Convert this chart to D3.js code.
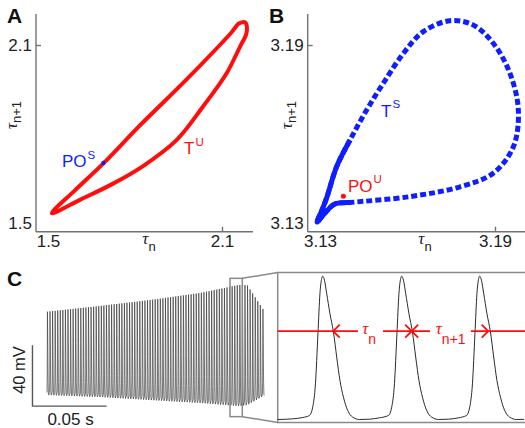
<!DOCTYPE html>
<html>
<head>
<meta charset="utf-8">
<script src="https://d3js.org/d3.v7.min.js"></script>
<style>
  body { margin: 0; background: #fff; }
  svg { display: block; font-family: "Liberation Sans", Arial, sans-serif; }
</style>
</head>
<body>
<svg id="fig" width="525" height="428"></svg>
<script>
// ---------- data ----------
// A: return map of the unstable torus T^U (closed loop, tau_n vs tau_n+1)
const loopAx = [1.513, 1.593, 1.691, 1.817, 1.978, 2.128, 2.160, 2.180, 2.186, 2.183, 2.162, 2.116, 2.034, 1.944, 1.828, 1.721, 1.610];
const loopAy = [1.533, 1.610, 1.701, 1.829, 1.984, 2.137, 2.173, 2.176, 2.160, 2.135, 2.094, 2.005, 1.892, 1.780, 1.692, 1.631, 1.578];
const poS = [1.691, 1.702];
const ticksA = [1.5, 2.1];

// B: return map of the stable torus T^S
const loopBx = [3.1403, 3.1351, 3.1317, 3.1290, 3.1307, 3.1324, 3.1357, 3.1403, 3.1460, 3.1517, 3.1586, 3.1654, 3.1746, 3.1826, 3.1894, 3.1951, 3.1980, 3.1963, 3.1894, 3.1780, 3.1609];
const loopBy = [3.1369, 3.1364, 3.1334, 3.1303, 3.1344, 3.1388, 3.1490, 3.1580, 3.1681, 3.1771, 3.1872, 3.1945, 3.1982, 3.1967, 3.1906, 3.1805, 3.1681, 3.1557, 3.1468, 3.1422, 3.1389];
const denseB = 8;          // first points where the orbit is dense (drawn solid)
const poU = [3.138, 3.139];
const ticksB = [3.13, 3.19];

// C: voltage trace, envelope of the spikes (ms, mV)
const envTime = [0, 35.8, 69.6, 103.4, 129, 135, 147];
const envPeak = [-10.4, -6.6, -2.7, 1.9, 7.1, 7.1, -10.6];
const envTrough = [-65, -66.3, -68.3, -70.2, -72.2, -71.6, -65];
const nSpikes = 85;
const firstSpike = 0.3, lastSpike = 145.6;
// one spike, phase within the ISI (0 = peak) and fraction of amplitude
const shapePhase = [-0.167, -0.091, -0.06, 0, 0.091, 0.177, 0.262, 0.379, 0.464];
const shapeFrac = [0.03, 0.24, 0.60, 1, 0.74, 0.435, 0.155, 0.02, 0];
const zoomWin = { t0: 123.4, t1: 131.7, v0: -79.2, v1: 11.5 };
const scaleBar = { t0: -9.8, t1: 40.2, v0: -72.3, v1: -32.3 };

// C inset: three spikes (ms, mV)
const insetTime = [0, 0.6, 1.0,
  1.27, 1.40, 1.51, 1.61, 1.69, 1.76, 1.80, 1.87, 1.96, 2.09, 2.23, 2.36, 2.49, 2.63, 2.80, 3.00, 3.27, 3.67, 4.07,
  4.43, 4.56, 4.67, 4.77, 4.85, 4.92, 4.96, 5.03, 5.12, 5.25, 5.39, 5.52, 5.65, 5.79, 5.96, 6.16, 6.43, 6.83, 7.23,
  7.55, 7.68, 7.79, 7.89, 7.97, 8.04, 8.08, 8.15, 8.24, 8.37, 8.51, 8.64, 8.77, 8.91, 9.08, 9.28, 9.55, 9.85];
const insetVolt = [-77.0, -76.6, -75.8,
  -74.6, -69.6, -55.6, -25.5, -1.4, 7.6, 9.0, 6.6, -1.4, -13.5, -24.5, -39.5, -53.6, -63.6, -71.6, -75.6, -77.0, -76.8, -76.0,
  -74.6, -69.6, -55.6, -25.5, -1.4, 7.6, 9.0, 6.6, -1.4, -13.5, -24.5, -39.5, -53.6, -63.6, -71.6, -75.6, -77.0, -76.8, -76.0,
  -74.6, -69.6, -55.6, -25.5, -1.4, 7.6, 9.0, 6.6, -1.4, -13.5, -24.5, -39.5, -53.6, -63.6, -71.6, -75.6, -77.0, -76.9];
const threshold = -24;
const redSegs = [[0, 3.21], [4.21, 6.09], [7.73, 9.9]];
const arrowTimes = [2.22, 5.36, 5.36, 8.42];
const arrowDirs = [-1, 1, -1, 1];
const tauTimes = [3.66, 6.92];
const tauSubs = ["n", "n+1"];

// ---------- drawing ----------
const svg = d3.select("#fig");
const RED = "#ff0d0d", BLUE = "#0f1eff", AXIS = "#727272", INK = "#222";
const tauFont = '"Liberation Serif", "DejaVu Serif", serif';

function panelLetter(txt, x, y) {
  svg.append("text").attr("x", x).attr("y", y).text(txt)
    .attr("font-size", 21).attr("font-weight", "bold").attr("fill", "#111");
}

function axes(x, y, ticks, fmt, ax0, ay0, xEnd, yTop) {
  const gx = svg.append("g").attr("transform", `translate(0,${ay0})`)
    .call(d3.axisBottom(x).tickValues(ticks).tickSize(-5).tickPadding(3).tickFormat(d3.format(fmt)));
  gx.select(".domain").attr("d", `M${ax0},0H${xEnd}`);
  const gy = svg.append("g").attr("transform", `translate(${ax0},0)`)
    .call(d3.axisLeft(y).tickValues(ticks).tickSize(-5).tickPadding(4).tickFormat(d3.format(fmt)));
  gy.select(".domain").attr("d", `M0,${yTop}V${ay0}`);
  [gx, gy].forEach(g => {
    g.selectAll(".tick line").filter((d, i) => i === 0).remove();
    g.selectAll("path, line").attr("stroke", AXIS).attr("stroke-width", 1.4);
    g.selectAll("text").attr("font-size", 17).attr("fill", INK)
      .attr("font-family", '"Liberation Sans", Arial, sans-serif');
  });
}

function tauTitles(cx, by, ylx, lyc) {
  // x title
  const t = svg.append("text").attr("x", cx).attr("y", by).attr("fill", INK)
    .attr("text-anchor", "middle");
  t.append("tspan").text("τ").attr("font-family", tauFont).attr("font-style", "italic").attr("font-size", 17);
  t.append("tspan").text("n").attr("dy", 7).attr("font-size", 13);
  // y title (rotated)
  const ty = svg.append("text").attr("transform", `translate(${ylx},${lyc}) rotate(-90)`)
    .attr("fill", INK).attr("text-anchor", "middle");
  ty.append("tspan").text("τ").attr("font-family", tauFont).attr("font-style", "italic").attr("font-size", 17);
  ty.append("tspan").text("n+1").attr("dy", 4).attr("font-size", 13);
}

function supLabel(x, y, main, sup, color) {
  const t = svg.append("text").attr("x", x).attr("y", y).attr("fill", color);
  t.append("tspan").text(main).attr("font-size", 17);
  t.append("tspan").text(sup).attr("font-size", 11.5).attr("dy", -8.5).attr("dx", 1);
}

// ---- Panel A ----
const xA = d3.scaleLinear().domain(ticksA).range([48, 222]);
const yA = d3.scaleLinear().domain(ticksA).range([223, 45]);
panelLetter("A", 7, 23);
axes(xA, yA, ticksA, ".1f", 36, 231.7, 253, 14);
tauTitles(149, 244, 17, 115);
const ptsA = loopAx.map((v, i) => [v, loopAy[i]]);
svg.append("path")
  .attr("d", d3.line().x(d => xA(d[0])).y(d => yA(d[1])).curve(d3.curveCatmullRomClosed.alpha(0.5))(ptsA))
  .attr("fill", "none").attr("stroke", RED).attr("stroke-width", 4).attr("stroke-linejoin", "round");
svg.append("circle").attr("cx", xA(poS[0])).attr("cy", yA(poS[1])).attr("r", 2.2).attr("fill", BLUE);
supLabel(62, 167, "PO", "S", BLUE);
supLabel(184, 154, "T", "U", RED);

// ---- Panel B ----
const xB = d3.scaleLinear().domain(ticksB).range([320, 495]);
const yB = d3.scaleLinear().domain(ticksB).range([223, 45]);
panelLetter("B", 269, 23);
axes(xB, yB, ticksB, ".2f", 307.7, 231.7, 526, 14);
tauTitles(425, 244, 292, 115);
const ptsB = loopBx.map((v, i) => [v, loopBy[i]]);
const lineB = d3.line().x(d => xB(d[0])).y(d => yB(d[1]));
svg.append("path")
  .attr("d", lineB.curve(d3.curveCatmullRomClosed.alpha(0.5))(ptsB))
  .attr("fill", "none").attr("stroke", BLUE).attr("stroke-width", 5).attr("stroke-dasharray", "6 3");
svg.append("path")
  .attr("d", lineB.curve(d3.curveCatmullRom.alpha(0.5))(ptsB.slice(0, denseB)))
  .attr("fill", "none").attr("stroke", BLUE).attr("stroke-width", 5).attr("stroke-linejoin", "round");
svg.append("circle").attr("cx", xB(poU[0])).attr("cy", yB(poU[1])).attr("r", 2.5).attr("fill", RED);
supLabel(348, 191.7, "PO", "U", RED);
supLabel(381, 116.7, "T", "S", BLUE);

// ---- Panel C ----
panelLetter("C", 7, 286);
const xC = d3.scaleLinear().domain([0, 147]).range([47, 265]);
const yC = d3.scaleLinear().domain([-65, -25]).range([395, 334]);
const peakAt = d3.scaleLinear().domain(envTime).range(envPeak).clamp(true);
const troughAt = d3.scaleLinear().domain(envTime).range(envTrough).clamp(true);
const isi = (lastSpike - firstSpike) / (nSpikes - 1);
const trace = [];
d3.range(nSpikes).forEach(i => {
  const tp = firstSpike + i * isi;
  shapePhase.forEach((ph, k) => {
    const t = tp + ph * isi;
    const lo = troughAt(t), hi = peakAt(t);
    trace.push([t, lo + shapeFrac[k] * (hi - lo)]);
  });
});
svg.append("path")
  .attr("d", d3.line().x(d => xC(d[0])).y(d => yC(d[1]))(trace))
  .attr("fill", "none").attr("stroke", "#333").attr("stroke-width", 0.65);

// scale bar
svg.append("path")
  .attr("d", `M${xC(scaleBar.t0)},${yC(scaleBar.v1)}V${yC(scaleBar.v0)}H${xC(scaleBar.t1)}`)
  .attr("fill", "none").attr("stroke", "#555").attr("stroke-width", 1.4);
svg.append("text").attr("transform", `translate(25,370) rotate(-90)`).attr("text-anchor", "middle")
  .attr("font-size", 16.5).attr("fill", INK).text("40 mV");
svg.append("text").attr("x", (xC(scaleBar.t0) + xC(scaleBar.t1)) / 2 + 1).attr("y", 425)
  .attr("text-anchor", "middle").attr("font-size", 17).attr("fill", INK).text("0.05 s");

// inset
const xI = d3.scaleLinear().domain([0, 9.9]).range([277.7, 525.2]);
const yI = d3.scaleLinear().domain([-78.8, 11.2]).range([422.5, 272.5]);
const bx0 = xC(zoomWin.t0), bx1 = xC(zoomWin.t1), by0 = yC(zoomWin.v1), by1 = yC(zoomWin.v0);
const frame = svg.append("g").attr("fill", "none").attr("stroke", "#8a8a8a").attr("stroke-width", 1.5);
frame.append("rect").attr("x", bx0).attr("y", by0).attr("width", bx1 - bx0).attr("height", by1 - by0);
frame.append("path").attr("d", `M${bx1},${by0}L${xI(0)},${yI.range()[1]}M${bx1},${by1}L${xI(0)},${yI.range()[0]}`);
frame.append("rect").attr("x", xI(0)).attr("y", yI.range()[1])
  .attr("width", 260).attr("height", yI.range()[0] - yI.range()[1]);

const insetPts = insetTime.map((t, i) => [t, insetVolt[i]]);
svg.append("path")
  .attr("d", d3.line().x(d => xI(d[0])).y(d => yI(d[1])).curve(d3.curveMonotoneX)(insetPts))
  .attr("fill", "none").attr("stroke", "#2a2a2a").attr("stroke-width", 1);

const red = svg.append("g").attr("stroke", RED).attr("stroke-width", 1.8).attr("fill", "none");
const yT = yI(threshold);
redSegs.forEach(s => red.append("path").attr("d", `M${xI(s[0])},${yT}H${xI(s[1])}`));
arrowTimes.forEach((t, i) => {
  const x0 = xI(t), dx = -arrowDirs[i] * 6.5;
  red.append("path").attr("d", `M${x0 + dx},${yT - 6.5}L${x0},${yT}L${x0 + dx},${yT + 6.5}`);
});
tauTimes.forEach((t, i) => {
  const tx = svg.append("text").attr("x", xI(t)).attr("y", yT + 2.5).attr("text-anchor", "middle").attr("fill", RED);
  tx.append("tspan").text("τ").attr("font-family", tauFont).attr("font-style", "italic").attr("font-size", 17);
  tx.append("tspan").text(tauSubs[i]).attr("dy", 10).attr("font-size", 14);
});
</script>
</body>
</html>
